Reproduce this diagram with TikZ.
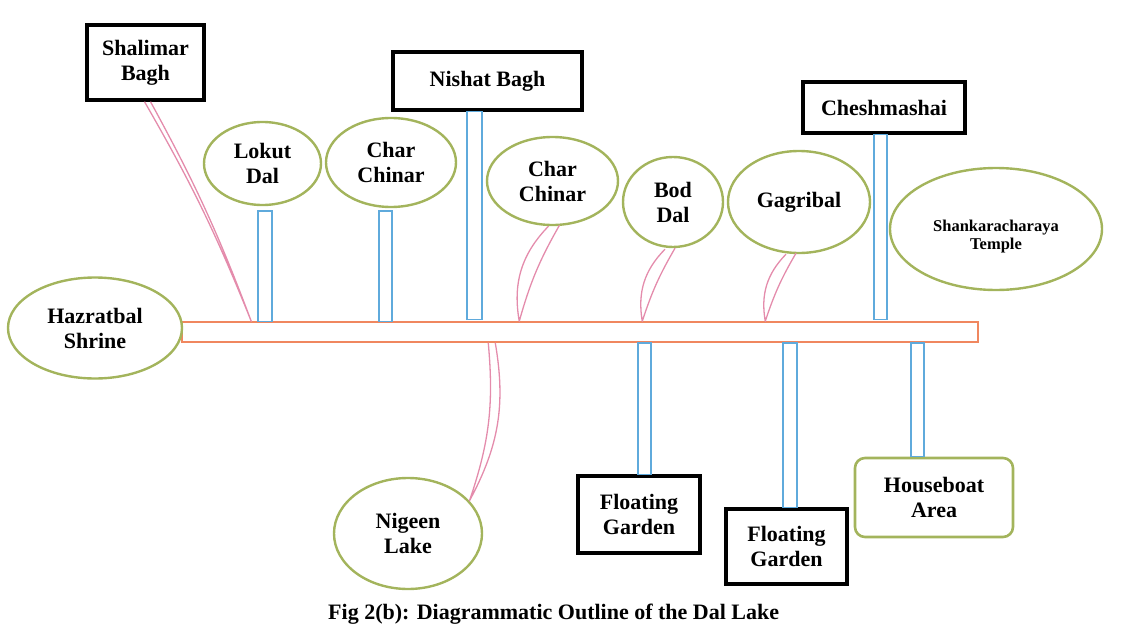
\documentclass[tikz,border=0pt]{standalone}
\usepackage{fontspec}
\setmainfont{Liberation Serif}
\usetikzlibrary{shapes.geometric,calc}
\definecolor{elgreen}{RGB}{163,180,92}
\definecolor{pilblue}{RGB}{95,170,220}
\definecolor{barorange}{RGB}{240,135,95}
\definecolor{bladepink}{RGB}{228,140,172}
\tikzset{
  lbl/.style={font=\bfseries\fontsize{22}{25}\selectfont, align=center, inner sep=0pt},
  ell/.style={lbl, ellipse, draw=elgreen, line width=2.4pt},
  blackbox/.style={lbl, rectangle, draw=black, line width=3.4pt},
  greenbox/.style={lbl, rectangle, rounded corners=10pt, draw=elgreen, line width=2.6pt},
  pillar/.style={draw=pilblue, line width=1.5pt},
  lakebar/.style={rectangle, draw=barorange, line width=1.5pt, inner sep=0pt},
  blade/.style={draw=bladepink, line width=1.3pt, line join=round}
}
\begin{document}
\begin{tikzpicture}[x=1pt,y=-1pt]
\useasboundingbox (0,0) rectangle (1122,634);
% main bar (the lake)
\node[lakebar, minimum width=796pt, minimum height=20pt] (bar) at (580,332) {};
% ellipses
\node[ell, minimum width=174pt, minimum height=101pt] (hazrat) at (95,328) {Hazratbal\\Shrine};
\node[ell, minimum width=117pt, minimum height=83pt] (lokut) at (262.5,163.5) {Lokut\\Dal};
\node[ell, minimum width=130pt, minimum height=89pt] (cc1) at (391,162.5) {Char\\Chinar};
\node[ell, minimum width=131pt, minimum height=88pt] (cc2) at (552.5,181) {Char\\Chinar};
\node[ell, minimum width=100pt, minimum height=90pt] (bod) at (673,202) {Bod\\Dal};
\node[ell, minimum width=142pt, minimum height=102pt] (gag) at (799,202) {Gagribal};
\node[ell, minimum width=212pt, minimum height=122pt, text height=45pt, font=\bfseries\fontsize{16.5}{18.5}\selectfont] (shank) at (996,229) {Shankaracharaya\\Temple};
\node[ell, minimum width=148pt, minimum height=111pt] (nigeen) at (408,533.5) {Nigeen\\Lake};
% boxes
\node[blackbox, minimum width=117pt, minimum height=75pt] (shal) at (145.5,62.5) {Shalimar\\Bagh};
\node[blackbox, minimum width=189pt, minimum height=58pt] (nishat) at (487.5,81) {Nishat Bagh};
\node[blackbox, minimum width=162pt, minimum height=51pt] (chesh) at (884,107.5) {Cheshmashai};
\node[blackbox, minimum width=122pt, minimum height=77pt] (fg1) at (639,514.5) {Floating\\Garden};
\node[blackbox, minimum width=121pt, minimum height=75pt] (fg2) at (786.5,546.5) {Floating\\Garden};
\node[greenbox, minimum width=158pt, minimum height=79pt] (house) at (934,497.5) {Houseboat\\Area};
% pillars above the bar
\draw[pillar] ($(lokut.south)+(-4.5,5)$) rectangle ($(lokut.south |- bar.north)+(9.5,0)$);
\draw[pillar] ($(cc1.south)+(-12,3)$) rectangle ($(cc1.south |- bar.north)+(1,0)$);
\draw[pillar] ($(nishat.south)+(-20.5,0)$) rectangle ($(nishat.south |- bar.north)+(-5.5,-2)$);
\draw[pillar] ($(chesh.south)+(-10,0)$) rectangle ($(chesh.south |- bar.north)+(3,-2)$);
% pillars below the bar
\draw[pillar] ($(bar.south -| fg1.north)+(-1,0)$) rectangle ($(fg1.north)+(12,0)$);
\draw[pillar] ($(bar.south -| fg2.north)+(-3.5,0)$) rectangle ($(fg2.north)+(10.5,0)$);
\draw[pillar] ($(bar.south -| house.north)+(-23,0)$) rectangle ($(house.north)+(-10,0)$);
% blade connectors
\coordinate (shA1) at ($(shal.south)+(-1,0)$);
\coordinate (shA2) at ($(shal.south)+(5,0)$);
\coordinate (shB) at ($(bar.north west)+(70,0)$);
\draw[blade] (shA1) to[bend left=4] (shB) to[bend right=4] (shA2);
\coordinate (c2A1) at ($(cc2.south)+(-4,0)$);
\coordinate (c2A2) at ($(cc2.south)+(7,-1)$);
\coordinate (c2B) at ($(bar.north west)+(338,0)$);
\draw[blade] (c2A1) to[bend right=27] (c2B) to[bend left=7] (c2A2);
\coordinate (bdA1) at ($(bod.south)+(-8,1)$);
\coordinate (bdA2) at ($(bod.south)+(2,0)$);
\coordinate (bdB) at ($(bar.north west)+(461,0)$);
\draw[blade] (bdA1) to[bend right=27] (bdB) to[bend left=6] (bdA2);
\coordinate (ggA1) at ($(gag.south)+(-13,0)$);
\coordinate (ggA2) at ($(gag.south)+(-3,-1)$);
\coordinate (ggB) at ($(bar.north west)+(584,0)$);
\draw[blade] (ggA1) to[bend right=27] (ggB) to[bend left=6] (ggA2);
\coordinate (ngA1) at ($(bar.south west)+(307,0)$);
\coordinate (ngA2) at ($(bar.south west)+(314,0)$);
\coordinate (ngB) at (nigeen.28);
\draw[blade] (ngA2) to[bend left=19] (ngB) to[bend right=12] (ngA1);
% caption
\node[lbl, anchor=west] (cap) at (328,614) {Fig 2(b): Diagrammatic Outline of the Dal Lake};
\end{tikzpicture}
\end{document}
